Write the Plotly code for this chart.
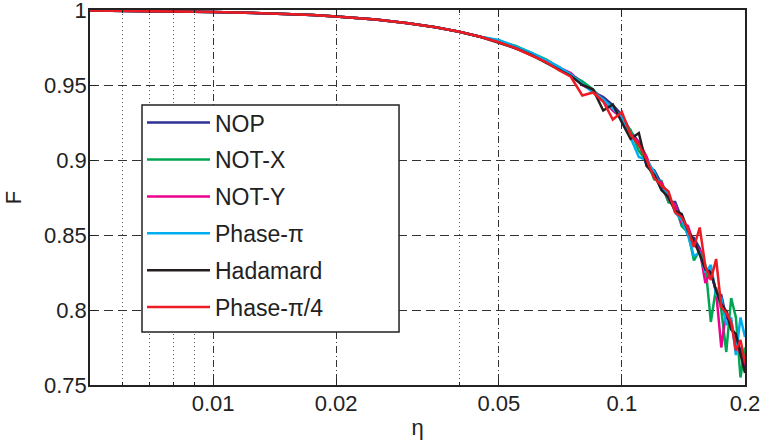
import plotly.graph_objects as go

eta = [0.005, 0.006, 0.007, 0.008, 0.009, 0.010, 0.0125, 0.015, 0.0175, 0.020,
       0.025, 0.030, 0.035, 0.040, 0.045, 0.050, 0.055, 0.060, 0.065, 0.070,
       0.075, 0.080, 0.085, 0.090, 0.095, 0.100, 0.105, 0.110, 0.115, 0.120,
       0.125, 0.130, 0.135, 0.140, 0.145, 0.150, 0.155, 0.160, 0.165, 0.170,
       0.175, 0.180, 0.185, 0.190, 0.195, 0.200]

low = [0.9996, 0.9995, 0.9993, 0.9991, 0.9989, 0.9987, 0.9981, 0.9974, 0.9966, 0.9957,
       0.9936, 0.9912, 0.9885, 0.9855, 0.9822]

nop = low + [0.9790, 0.9742, 0.9710, 0.9658, 0.9610, 0.9572, 0.9520, 0.9455, 0.9420, 0.9365,
             0.9300, 0.9190, 0.9120, 0.8960, 0.8930, 0.8840, 0.8720, 0.8720, 0.8610, 0.8500,
             0.8480, 0.8410, 0.8280, 0.8260, 0.8120, 0.8100, 0.7950, 0.7920, 0.7780, 0.7740,
             0.7620]
not_x = low + [0.9795, 0.9760, 0.9712, 0.9672, 0.9620, 0.9560, 0.9525, 0.9470, 0.9395, 0.9350,
               0.9265, 0.9200, 0.9060, 0.8990, 0.8870, 0.8860, 0.8720, 0.8700, 0.8560, 0.8520,
               0.8330, 0.8400, 0.8300, 0.7920, 0.8150, 0.8000, 0.7720, 0.8080, 0.7950, 0.7550,
               0.7750]
not_y = low + [0.9788, 0.9750, 0.9700, 0.9665, 0.9618, 0.9580, 0.9500, 0.9460, 0.9400, 0.9330,
               0.9280, 0.9170, 0.9120, 0.9020, 0.8880, 0.8850, 0.8740, 0.8700, 0.8580, 0.8560,
               0.8440, 0.8400, 0.8180, 0.8260, 0.8120, 0.7750, 0.8000, 0.7880, 0.7820, 0.7700,
               0.7630]
phase_pi = low + [0.9800, 0.9755, 0.9715, 0.9668, 0.9622, 0.9570, 0.9510, 0.9450, 0.9405, 0.9340,
                  0.9285, 0.9150, 0.9020, 0.9000, 0.8920, 0.8800, 0.8780, 0.8650, 0.8600, 0.8500,
                  0.8360, 0.8380, 0.8250, 0.8300, 0.8100, 0.8080, 0.7900, 0.7950, 0.7700, 0.7950,
                  0.7820]
hadamard = low + [0.9782, 0.9745, 0.9700, 0.9650, 0.9605, 0.9560, 0.9500, 0.9470, 0.9330, 0.9370,
                  0.9250, 0.9140, 0.9180, 0.8960, 0.8900, 0.8800, 0.8750, 0.8660, 0.8640, 0.8530,
                  0.8460, 0.8370, 0.8270, 0.8250, 0.8130, 0.8040, 0.7990, 0.7870, 0.7840, 0.7700,
                  0.7580]
phase_pi4 = low + [0.9785, 0.9745, 0.9700, 0.9655, 0.9600, 0.9555, 0.9430, 0.9450, 0.9390, 0.9270,
                   0.9320, 0.9170, 0.9100, 0.9000, 0.8880, 0.8830, 0.8790, 0.8650, 0.8620, 0.8540,
                   0.8420, 0.8550, 0.8290, 0.8200, 0.8340, 0.8020, 0.7980, 0.7920, 0.7730, 0.7800,
                   0.7650]

names = ["NOP", "NOT-X", "NOT-Y", "Phase-\u03c0", "Hadamard", "Phase-\u03c0/4"]
series = [nop, not_x, not_y, phase_pi, hadamard, phase_pi4]
colors = ["#2E3192", "#00A651", "#EC008C", "#00AEEF", "#231F20", "#ED1C24"]

x_ticks = [0.01, 0.02, 0.05, 0.1, 0.2]
x_ticktext = ["0.01", "0.02", "0.05", "0.1", "0.2"]
x_minor = [0.006, 0.007, 0.008, 0.009, 0.04]
y_ticks = [0.75, 0.8, 0.85, 0.9, 0.95, 1.0]
y_ticktext = ["0.75", "0.8", "0.85", "0.9", "0.95", "1"]

font_family = "Liberation Sans, Arial, sans-serif"
ink = "#222222"

fig = go.Figure()
for i, (nm, ys, c) in enumerate(zip(names, series, colors)):
    fig.add_trace(go.Scatter(x=eta, y=ys, mode="lines", name=nm,
                             legendgroup="g%d" % i,
                             line=dict(color=c, width=2.5)))

# legend frame (opaque white box with black border)
fig.add_shape(type="rect", xref="paper", yref="paper",
              x0=0.0794, x1=0.4718, y0=0.1413, y1=0.7467,
              fillcolor="white", line=dict(color=ink, width=1.5), layer="above")

fig.update_layout(
    width=763, height=442,
    margin=dict(l=90, r=18, t=10, b=57, autoexpand=False),
    paper_bgcolor="white", plot_bgcolor="white",
    font=dict(family=font_family, size=22, color=ink),
    showlegend=True,
    legend=dict(x=0.0794, y=0.757, xanchor="left", yanchor="top",
                bgcolor="rgba(0,0,0,0)", borderwidth=0,
                font=dict(size=23, color=ink),
                tracegroupgap=4, itemwidth=63),
    xaxis=dict(type="log", range=[-2.30103, -0.69897], automargin=False,
               tickmode="array", tickvals=x_ticks, ticktext=x_ticktext,
               ticks="inside", ticklen=6, tickcolor=ink,
               showline=True, linecolor=ink, linewidth=1.5, mirror="ticks",
               showgrid=True, gridcolor="#333333", gridwidth=1, griddash="7px,3px,1px,3px",
               zeroline=False, ticklabelstandoff=-2, ticklabeloverflow="allow",
               minor=dict(tickmode="array", tickvals=x_minor, ticks="inside", ticklen=3,
                          tickcolor=ink, showgrid=True, gridcolor="#555555",
                          griddash="1px,3px", gridwidth=1),
               title=dict(text="\u03b7", standoff=4, font=dict(size=22))),
    yaxis=dict(range=[0.75, 1.0], automargin=False,
               tickmode="array", tickvals=y_ticks, ticktext=y_ticktext,
               ticks="inside", ticklen=6, tickcolor=ink,
               showline=True, linecolor=ink, linewidth=1.5, mirror="ticks",
               showgrid=True, gridcolor="#333333", gridwidth=1, griddash="9px,5px",
               zeroline=False, ticklabelstandoff=-3, ticklabeloverflow="allow",
               title=dict(text="F", standoff=16, font=dict(size=22))),
)

fig.write_html("out.html")
